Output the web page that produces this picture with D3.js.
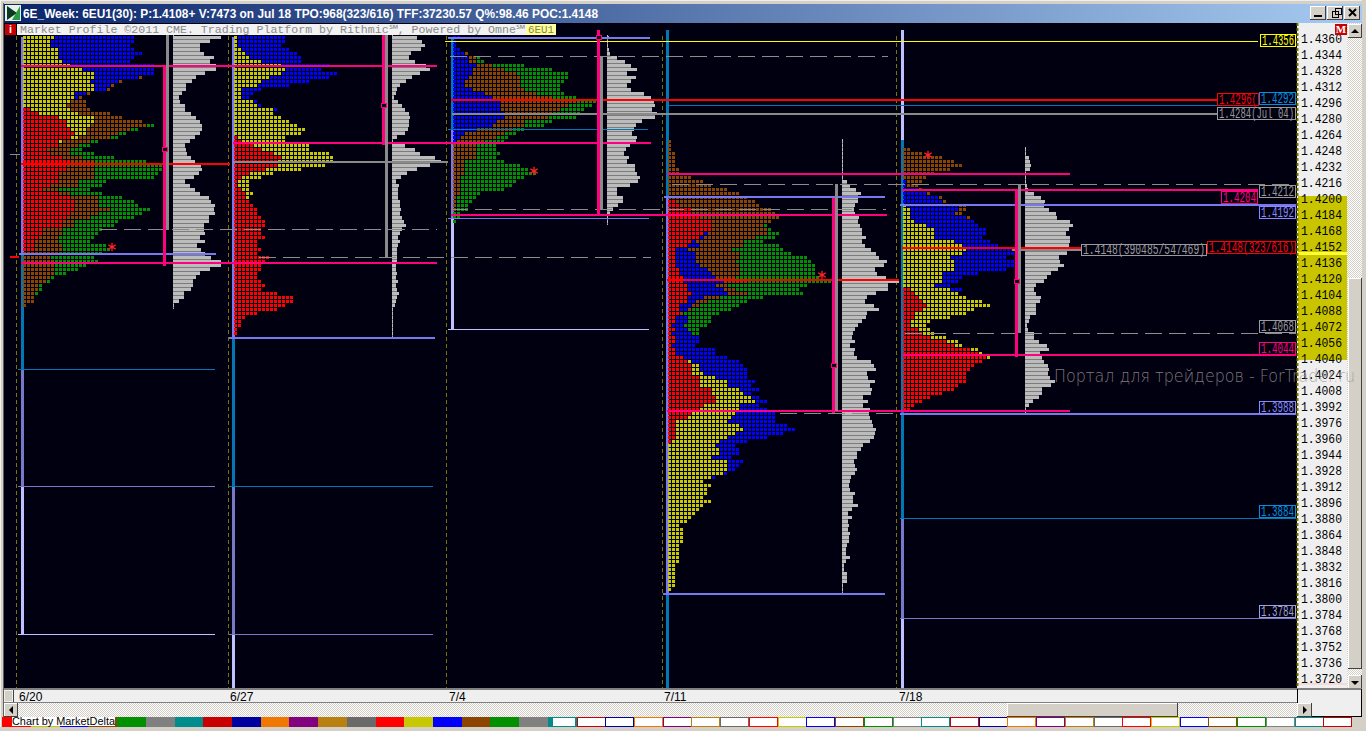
<!DOCTYPE html>
<html><head><meta charset="utf-8">
<style>html,body{margin:0;padding:0;background:#d4d0c8;overflow:hidden}svg{display:block}</style>
<script src="https://cdn.jsdelivr.net/npm/d3@7/dist/d3.min.js"></script>
</head><body><div id="c"></div>
<script>
// ---------- DATA ----------
const titleText = "6E_Week: 6EU1(30): P:1.4108+ V:7473 on Jul 18 TPO:968(323/616) TFF:37230.57 Q%:98.46 POC:1.4148";
const infoText = "Market Profile ©2011 CME. Trading Platform by Rithmic℠, Powered by Omne℠";
const symbolText = "6EU1";
const watermark = "Портал для трейдеров - ForTrader.ru";
const dates = ["6/20","6/27","7/4","7/11","7/18"];
const priceTicks = [1.4360,1.4344,1.4328,1.4312,1.4296,1.4280,1.4264,1.4248,1.4232,1.4216,1.4200,1.4184,1.4168,1.4152,1.4136,1.4120,1.4104,1.4088,1.4072,1.4056,1.4040,1.4024,1.4008,1.3992,1.3976,1.3960,1.3944,1.3928,1.3912,1.3896,1.3880,1.3864,1.3848,1.3832,1.3816,1.3800,1.3784,1.3768,1.3752,1.3736,1.3720];
// TPO rows, top row first. r,y,b,n,g = letter period colour, followed by count of TPOs
const tpo1 = "y8b20 y7b21 y7b20 y9b19 y9b21 y9b19 y10b17 y12b21 y15b18 y18b15 y18b11n1 y17b7n1 y18b4n1 y18b3n1 y13b3n1 y13b1n1 y12n4 y11n5 r2y10n5 r4y10n8 r9y9n7 r11y7n12 r11y6n14g2 r12y4n11g2 r13y3n8g2 r12y2n8g2 r9y1n7g2 r9n5g3 r6n6g3 r7n5g6 r10n5g8 r12n6g13 r11n7g18 r11n7g18 r9n9g16 r9n9g15 r9n5g7 r7n7g6 r5n4g8 r9n3g8 r12n7g6 r13n6g9 r13n6g10 r13n9g10 r12n7g11 r11n6g11 r10n3g11 r10n3g10 r5n5g10 r5n5g9 r4n5g9 r3n6g8 r3n7g11 r3n7g12 n9g11 n7g11 n8g11 n8g8 n8g6 n8g3 n7g1 n6g1 n4g1 n4g1 n3g1 n3 n3 n1".split(" ");
const tpo2 = "y1b12 y1b12 y1b11 y2b12 y3b13 y4b13 y7b10 y12b12 y13b9 y12b14 y9b15 y7b12 y6b8 y2b5 y2b3 y2b2 y5b1 y6b1 y10b1 y10 y12 y14 y16 y18 y17 r1y12 r2y11 r5y14 r7y12 r10y14 r12y13 r11y14 r11y12 r8y9 r4y6 r2y5 r1y3 r1y3 r2y2 r3y2 r3y1 r4 r5 r6 r6 r7 r8 r8 r7 r7 r8 r6 r6 r7 r6 r9 r8 r7 r7 r6 r6 r7 r8 r7 r11 r15 r15 r13 r11 r6 r3 r2 r2 r1 r1".split(" ");
const tpo3 = "b2 b1 b1 b2 b3n1 b4n2g1 b4n2g2 b6n4g8 b5n8g12 b5n11g13 b4n13g12 b3n14g11 b3n14g10 b5n13g9 b8n13g7 b10n15g6 b12n19g6 b12n17g6 b12n15g6 b13n12g7 b13n11g7 b11n7g7 b10n8g5 b6n9g3 b3n10g3 b2n9g3 b1n7g5 n6g5 n6g5 n6g6 n6g5 n3g10 n3g14 n3g16 n3g18 n2g16 n2g14 n2g13 n2g11 n2g5 n1g5 n1g4 n1g3 n1g3 g2 g2 g1".split(" ");
const tpo4 = "n1 n1 n1 n2 n2 n2 n2 n3 n3 n6 n9 n11 n15 n18 n20 r2n20 r3n20 r6n20 r6n21 r8n20 r11n15 r11n13g1 r11n14g1 r9b1n15g3 r8b1n13g5 r6b1n12g5 r5b3n11g9 r2b3n11g13 r2b5n11g13 r2b5n11g17 r2b5n10g19 r2b6n10g19 r3b7n8g19 r3b8n7g19 r4b8n5g21 r4b10n6g22 r5b7n3g20 r5b9n3g16 r6b9n5g14 r5b4n4g11 r5b2n3g10 r3b3n2g10 r3b2n1g10 r3n1g9 r2b3g6 r2b3g6 r1b3g6 r2b3g3 r1b5g2 r2b6 r2b6 r1b6 r2b10 r2b10 r4b11 r5y1b12 r6y2b11 r6y2b12 r6y3b11 r8y4b8 r8y7b7 r8y7b6 r11y7b5 r11y8b2 r12y9b2 r12y10b3 r9y9b5 r8y10b7 r6y11b10 r5y11b11 r2y13b12 r2y16b12 r2y17b13 r2y15b12 r2y13b10 r1y12b7 y12b5 y13b5 y13b5 y11b5 y15b4 y15b3 y15b2 y14b1 y11b1 y9 y11 y10 y10 y9 y11 y9 y8 y7 y6 y5 y3 y4 y4 y4 y4 y3 y3 y3 y3 y3 y2 y2 y2 y2 y2 y2 y1".split(" ");
const tpo5 = "n2 n5 n10 n13 n15 n12 n8 n6 b1n4 b1n3 b4n1 b6n1 b9n1 b10n1 y1b13n2 y2b12n2 y2b11n2 y2b14n1 y3b15 y6b13 y8b13 y8b13 y8b12 y13b9 y15b9 y16b13 y15b13 y12b14 y13b15 y13b15 y13b13 y10b9 y10b5 y10b4 y8b4 r2y10b3 r3y11 r4y12 r5y15 r6y16 r5y13 r3y13 r3y9 r2y5 r2y4 r4y3 r5y3 r7y4 r11y3 r13y2 r17y2 r19y1 r21y1 r20 r18 r17 r16 r16 r16 r14 r13 r10 r7 r5 r3 r2".split(" ");
// volume at price, same rows
const vol1 = [145,110,82,82,92,122,112,128,128,95,70,57,40,38,28,17,22,37,37,53,70,80,88,88,80,65,52,37,40,43,53,65,83,88,77,62,37,52,67,80,107,113,125,122,125,107,107,92,92,95,80,97,73,83,97,113,145,145,112,80,68,61,61,53,32,32,17,1];
const vol2 = [76,91,98,86,58,50,70,103,115,85,61,43,25,15,13,6,19,29,38,50,53,50,50,47,38,16,3,38,68,85,128,148,113,76,46,28,13,20,18,19,19,25,23,26,25,29,35,41,31,25,19,23,19,15,16,16,16,11,11,14,13,17,11,16,20,15,13,8,4,4,4,4,2,1,1];
const vol3 = [5,3,4,7,10,30,53,71,89,61,86,71,61,71,110,131,141,143,134,149,143,104,86,80,74,89,86,68,56,50,65,59,83,83,89,98,92,68,29,29,47,47,32,17,10,4,2];
const vol4 = [1,1,1,1,1,1,1,1,1,2,14,23,41,56,47,47,38,35,38,50,47,53,59,59,71,59,68,86,101,110,134,125,98,104,131,170,137,137,101,74,68,95,110,74,71,59,47,38,32,29,38,23,38,35,44,86,95,101,74,77,98,83,89,86,62,77,62,83,80,83,89,92,101,98,95,83,62,56,44,44,35,38,44,38,26,23,20,23,38,32,32,47,29,17,29,17,20,17,23,20,20,14,11,11,23,11,5,7,14,14,14,2,1];
const vol5 = [1,2,11,16,17,14,3,3,3,5,8,27,47,59,56,71,92,95,134,143,131,122,134,134,131,167,125,101,104,116,98,77,65,56,32,26,32,47,44,32,32,32,14,11,6,8,26,26,41,65,71,44,50,56,68,71,68,74,89,77,50,50,41,23,11,1];
const profileTopPrice = [1.4361,1.4361,1.4361,1.4257,1.4249];
const tpoSets = [tpo1,tpo2,tpo3,tpo4,tpo5];
const volSets = [vol1,vol2,vol3,vol4,vol5];
const starPrices = [1.4151,null,1.4227,1.4123,1.4243];
const labelTexts = ["1.4356","1.4296(","1.4292","1.4284(Jul 04)","1.4212","1.4204","1.4192","1.4148(390485/547469)","1.4148(323/616)","1.4068","1.4044","1.3988","1.3884","1.3784"];
const tabColors = ["#ff0000","#c8c800","#0000ff","#8b4500","#009000","#808080","#008c8c","#c80000","#0000a0","#f07800","#800080","#b88010","#6a6a6a"];

// ---------- SCALES ----------
const W=1366,H=731;
const y = d3.scaleLinear().domain([1.4360,1.3720]).range([38,678]);
const cellX = d3.scaleLinear().domain([0,1]).range([0,4]);
const volX = d3.scaleLinear().domain([0,300]).range([0,100]);
const COL={r:"#ff0000",y:"#c8c800",b:"#0000ff",n:"#8b4500",g:"#009000"};
const PINK="#ff007f",VIO="#7878f0",LAV="#c0c0ff",MID="#7878c8",BLU="#0078b8",GRY="#8a8a8a",RED="#ff0000",DASH="#8c8c8c";
const svg=d3.select("#c").append("svg").attr("width",W).attr("height",H).style("font-family","'Liberation Sans'");
const defs=svg.append("defs");
const grad=defs.append("linearGradient").attr("id","tb");
grad.append("stop").attr("offset",0).attr("stop-color","#0a246a");
grad.append("stop").attr("offset",1).attr("stop-color","#a6caf0");
const pat=defs.append("pattern").attr("id","chk").attr("width",2).attr("height",2).attr("patternUnits","userSpaceOnUse");
pat.append("rect").attr("width",2).attr("height",2).attr("fill","#ffffff");
pat.append("rect").attr("width",1).attr("height",1).attr("fill","#d4d0c8");
pat.append("rect").attr("x",1).attr("y",1).attr("width",1).attr("height",1).attr("fill","#d4d0c8");
function box(g,x,yy,w,h,f,s){return g.append("rect").attr("x",x).attr("y",yy).attr("width",w).attr("height",h).attr("fill",f).attr("stroke",s||"none").attr("shape-rendering","crispEdges");}
function btn(g,x,yy,w,h){box(g,x,yy,w,h,"#d4d0c8");box(g,x,yy,w,1,"#fff");box(g,x,yy,1,h,"#fff");box(g,x,yy+h-1,w,1,"#404040");box(g,x+w-1,yy,1,h,"#404040");}

// ---------- WINDOW ----------
box(svg,0,0,W,H,"#d4d0c8");
box(svg,0,0,W,1,"#f0eeea");box(svg,0,0,1,H,"#f4f2ee");box(svg,3,3,1,725,"#606060");
box(svg,4,4,1358,19,"url(#tb)");
// icon
box(svg,5,5,16,16,"#e8f0e8");
svg.append("path").attr("d","M7 6 L7 20 L17 13 Z").attr("fill","#0a3a20");
svg.append("path").attr("d","M20 6 L20 20 L12 20 Z").attr("fill","#2a9a40");
svg.append("text").attr("x",23).attr("y",18).attr("fill","#fff").attr("font-weight","bold").attr("font-size",13).attr("textLength",575).attr("lengthAdjust","spacingAndGlyphs").text(titleText);
[1310,1327,1344].forEach(x=>btn(svg,x,6,16,14));
box(svg,1314,15,8,2,"#000");
box(svg,1332,11,6,6,"none","#000");box(svg,1335,8,6,6,"none","#000");
svg.append("path").attr("d","M1349 9 L1356 16 M1356 9 L1349 16").attr("stroke","#000").attr("stroke-width",2);

// chart area
box(svg,4,23,1293,666,"#000010");

// period separators
const sepX=[16,228,446,662,896];
svg.append("g").selectAll("line").data(sepX).join("line").attr("x1",d=>d+.5).attr("x2",d=>d+.5).attr("y1",36).attr("y2",688).attr("stroke","#787800").attr("stroke-dasharray","4 3").attr("shape-rendering","crispEdges");

// volume profile
const volBase=[173,392,607,842,1025];
const volG=svg.append("g");
volSets.forEach((v,i)=>{
  const top=profileTopPrice[i];
  const yc=k=>Math.round(y(top-0.0004*k));
  volG.append("rect").attr("x",volBase[i]).attr("width",1).attr("y",yc(0)-2).attr("height",yc(v.length-1)-yc(0)+6).attr("fill","#b4b4b4").attr("shape-rendering","crispEdges");
  // row separators in a darker grey, then the light bar
  volG.selectAll(null).data(v).join("rect").attr("x",volBase[i]).attr("y",(d,k)=>yc(k)+2).attr("height",1).attr("width",(d,k)=>Math.max(1,Math.min(volX(d),volX(k+1<v.length?v[k+1]:0)))).attr("fill","#7c7c7c").attr("shape-rendering","crispEdges");
  volG.selectAll(null).data(v).join("rect").attr("x",volBase[i]).attr("y",(d,k)=>yc(k)-1).attr("height",3).attr("width",d=>Math.max(1,volX(d))).attr("fill","#bcbcbc").attr("shape-rendering","crispEdges");
});

// vertical range bars
function vb(x,p0,p1,c,w){box(svg,x,Math.round(y(p0)),w,Math.round(y(p1)-y(p0)),c);}
// profile spines (beneath the TPOs)
vb(21,1.4361,1.4144,VIO,3);vb(21,1.4144,1.4028,BLU,3);vb(21,1.4028,1.3912,MID,3);vb(21,1.3912,1.3764,LAV,3);
vb(232,1.4361,1.4060,VIO,3);vb(232,1.4060,1.3912,BLU,3);vb(232,1.3912,1.3764,MID,3);vb(232,1.3764,1.3688,LAV,3);
vb(451,1.4361,1.4268,BLU,3);vb(451,1.4268,1.4180,VIO,3);vb(451,1.4180,1.4068,LAV,3);
vb(666,1.4368,1.4202,BLU,3);vb(666,1.4202,1.3804,VIO,3);vb(666,1.3804,1.3688,BLU,3);
vb(901,1.4368,1.4258,LAV,3);vb(901,1.4258,1.3880,BLU,3);vb(901,1.3880,1.3780,MID,3);vb(901,1.3780,1.3688,LAV,3);

// TPO cells
const cellBase=[23,234,453,668,903];
const cellG=svg.append("g").attr("shape-rendering","crispEdges");
tpoSets.forEach((rows,i)=>{
  const cells=[];
  rows.forEach((row,k)=>{let n=0;for(const m of row.matchAll(/([rybng])(\d+)/g)){for(let c=0;c<+m[2];c++)cells.push({k,col:n++,l:m[1]});}});
  const top=profileTopPrice[i];
  cellG.append("g").selectAll("rect").data(cells).join("rect")
   .attr("x",d=>cellBase[i]+cellX(d.col)).attr("y",d=>Math.round(y(top-0.0004*d.k))-1)
   .attr("width",3).attr("height",3).attr("fill",d=>COL[d.l]);
});

// horizontal levels: price, from, to, colour, weight, dashed
function hline(p,x0,x1,c,w,dash){
  const yy=y(p);
  if(dash){svg.append("line").attr("x1",x0).attr("x2",x1).attr("y1",Math.round(yy)+.5).attr("y2",Math.round(yy)+.5).attr("stroke",c).attr("stroke-dasharray","17 7").attr("shape-rendering","crispEdges");}
  else box(svg,x0,Math.round(yy-w/2),x1-x0,w,c);
}
const D=true;
// dashed
hline(1.4169,100,437,DASH,1,D);hline(1.41405,259,651,DASH,1,D);hline(1.4342,450,888,DASH,1,D);hline(1.4189,451,886,DASH,1,D);
hline(1.4214,672,1296,DASH,1,D);hline(1.3985,780,900,DASH,1,D);hline(1.4065,905,1296,DASH,1,D);
// first week
hline(1.4144,19,216,VIO,2);hline(1.4332,21,437,PINK,2);hline(1.4234,21,230,RED,2);hline(1.41345,21,437,PINK,2);
hline(1.4028,18,215,BLU,1);hline(1.3912,18,215,MID,1);hline(1.3764,18,215,LAV,1);
// second
hline(1.4255,233,651,PINK,2);hline(1.4236,233,448,GRY,2);hline(1.4060,229,435,VIO,2);hline(1.3912,229,433,BLU,1);hline(1.3764,229,433,MID,1);
// third
hline(1.4360,448,650,VIO,2);hline(1.43565,445,1258,"#ffff00",1);hline(1.4298,451,1217,RED,2);hline(1.4284,452,1217,GRY,2);hline(1.4268,448,648,BLU,1);
hline(1.41833,451,887,PINK,2);hline(1.4180,448,649,VIO,1);hline(1.4068,448,649,LAV,1);
// fourth
hline(1.42925,667,1258,BLU,1);hline(1.4224,667,1070,PINK,2);hline(1.42013,664,885,VIO,2);hline(1.4118,667,899,RED,2);hline(1.3987,667,1070,PINK,2);hline(1.3804,663,885,VIO,2);
// fifth
hline(1.4208,902,1258,PINK,2);hline(1.4193,900,1296,VIO,2);hline(1.4148,1012,1081,GRY,2);hline(1.4150,902,1081,RED,2);hline(1.4043,903,1296,PINK,2);hline(1.39843,900,1296,VIO,2);hline(1.3880,900,1296,BLU,1);hline(1.3780,900,1296,MID,1);

// value areas
const markers=[[163,1.4331,1.41325,149,166,1.4369,1.4168],[382,1.4368,1.4253,105,385,1.4368,1.41405],[597,1.4368,1.4182,37,600,1.4342,1.4189],[832,1.42,1.3985,365,835,1.4214,1.3987],[1015,1.4207,1.4041,281,1018,1.4214,1.4065]];
markers.forEach(m=>{
  vb(m[4],m[5],m[6],GRY,3);
  vb(m[0],m[1],m[2],PINK,3);
  box(svg,m[0]-1,m[3]-2,5,4,"#000010",PINK);
});
// tail marks on the left edge
box(svg,10,154,10,1,GRY);box(svg,10,256,9,2,RED);

// stars
const sym=d3.symbol().type(d3.symbolAsterisk).size(50);
const starX=[112,null,534,822,928];
starX.forEach((x,i)=>{if(x!=null)svg.append("path").attr("d",sym()).attr("transform",`translate(${x},${y(starPrices[i])})`).attr("fill","none").attr("stroke","#ff2020").attr("stroke-width",1.3);});

// info bar
box(svg,17,24,509,11,"#f2f2f2");
svg.append("text").attr("x",20).attr("y",33).attr("font-family","'Liberation Mono'").attr("font-size",11.5).attr("fill","#8a8a8a").attr("textLength",505).attr("lengthAdjust","spacingAndGlyphs").text(infoText);
box(svg,526,24,30,11,"#ffffa0");
svg.append("text").attr("x",528).attr("y",33).attr("font-family","'Liberation Mono'").attr("font-size",11.5).attr("fill","#8a8a30").attr("textLength",26).attr("lengthAdjust","spacingAndGlyphs").text(symbolText);
box(svg,5,24,11,11,"#c80000");
svg.append("text").attr("x",10.5).attr("y",33).attr("text-anchor","middle").attr("font-size",11).attr("font-weight","bold").attr("fill","#fff").text("i");

// price axis
const axG=svg.append("g");
box(axG,1297,23,50,666,"#efefef");
box(axG,1298,196,49,164,"#c8c400");
box(axG,1298,252,49,3,"#ffff30");
box(axG,1298,683,49,2,"#f8d8d8");
axG.append("line").attr("x1",1297.5).attr("x2",1297.5).attr("y1",23).attr("y2",689).attr("stroke","#787800").attr("stroke-width",2).attr("stroke-dasharray","3 2");
const axis=d3.axisRight(y).tickValues(priceTicks).tickSize(0).tickPadding(0).tickFormat(d3.format(".4f"));
const ax=axG.append("g").attr("transform","translate(1301,0)").call(axis);
ax.select(".domain").remove();
ax.selectAll("text").attr("font-family","'Liberation Mono'").attr("font-size",12).attr("fill","#000").attr("textLength",41).attr("lengthAdjust","spacingAndGlyphs").attr("x",0).attr("dy","0.38em");
box(axG,1335,24,12,11,"#c80000");
axG.append("text").attr("x",1341).attr("y",33).attr("text-anchor","middle").attr("font-family","'Liberation Serif'").attr("font-size",11).attr("font-weight","bold").attr("fill","#fff").text("M");

// price labels
const labelBoxes=[[1260,34,36,13,"#ffff00"],[1217,93,42,13,RED],[1259,92,37,13,"#0090e0"],[1217,107,79,13,"#9a9a9a"],[1259,185,37,13,"#9a9a9a"],[1221,191,37,13,PINK],[1259,206,37,13,"#8888ff"],[1081,244,126,12,"#9a9a9a"],[1207,241,89,13,RED],[1259,320,37,13,"#9a9a9a"],[1259,342,37,13,PINK],[1259,401,37,13,"#8888ff"],[1259,505,37,13,"#0090e0"],[1259,605,37,13,"#a0a0d8"]];
labelTexts.forEach((t,i)=>{
  const b=labelBoxes[i];
  const g=svg.append("g");
  box(g,b[0]+.5,b[1]+.5,b[2]-1,b[3]-1,"#000010",b[4]);
  g.append("text").attr("x",b[0]+2).attr("y",b[1]+b[3]-2).attr("font-family","'Liberation Mono'").attr("font-size",14).attr("fill",b[4]).attr("textLength",b[2]-4).attr("lengthAdjust","spacingAndGlyphs").text(t);
});

// vertical scrollbar
box(svg,1347,23,15,667,"url(#chk)");
btn(svg,1348,24,14,14);svg.append("path").attr("d","M1355 29 L1351 33 L1359 33 Z").attr("fill","#000");
btn(svg,1348,278,14,391);
btn(svg,1348,675,14,15);svg.append("path").attr("d","M1355 685 L1351 681 L1359 681 Z").attr("fill","#000");

// date axis
box(svg,4,688,1358,2,"#808080");
box(svg,4,690,1293,12,"#efefef");
box(svg,4,702,1293,1,"#808080");
box(svg,13,690,1,12,"#404040");
box(svg,5,691,7,10,"#d4d0c8");
const dateX=[19,230,449,664,899];
svg.append("g").selectAll("text").data(dates).join("text").attr("x",(d,i)=>dateX[i]).attr("y",701).attr("font-size",12).attr("fill","#000").text(d=>d);
box(svg,1297,690,65,27,"#efefef");box(svg,1297,689,1,28,"#000");box(svg,1297,716,65,1,"#000");box(svg,1361,689,1,28,"#000");

// horizontal scrollbar
box(svg,4,703,1293,14,"url(#chk)");
btn(svg,4,703,14,14);svg.append("path").attr("d","M9 710 L13 706 L13 714 Z").attr("fill","#000");
btn(svg,1007,703,171,14);
btn(svg,1297,703,15,14);svg.append("path").attr("d","M1307 710 L1303 706 L1303 714 Z").attr("fill","#000");

// colour tabs
const tabW=28.72,tab0=2.2,tabCount=47;
const tabs=d3.range(tabCount);
svg.append("g").selectAll("rect").data(tabs).join("rect")
 .attr("x",i=>Math.round(tab0+i*tabW)+(i>=20?.5:0)).attr("y",i=>i>=20?717.5:717).attr("height",i=>i>=20?9:10).attr("width",i=>Math.round(tabW)-(i>=20?1:0))
 .attr("fill",i=>i<20?tabColors[i%13]:"#fff").attr("stroke",i=>i>=20?tabColors[i%13]:"none").attr("shape-rendering","crispEdges");
box(svg,553,718,22,8,"#fff");
box(svg,12,717,103,9,"#fff");
svg.append("text").attr("x",12).attr("y",725).attr("font-size",11).attr("fill","#000").attr("textLength",103).attr("lengthAdjust","spacingAndGlyphs").text("Chart by MarketDelta");
box(svg,0,727,W,4,"#d4d0c8");
box(svg,1362,0,4,H,"#d4d0c8");

// watermark over everything
svg.append("text").attr("x",1054).attr("y",382).attr("font-family","'DejaVu Sans','Liberation Sans'").attr("font-weight",200).attr("font-size",18).attr("fill","#a09898").attr("fill-opacity",.8).attr("textLength",301).attr("lengthAdjust","spacingAndGlyphs").text(watermark);
</script></body></html>
